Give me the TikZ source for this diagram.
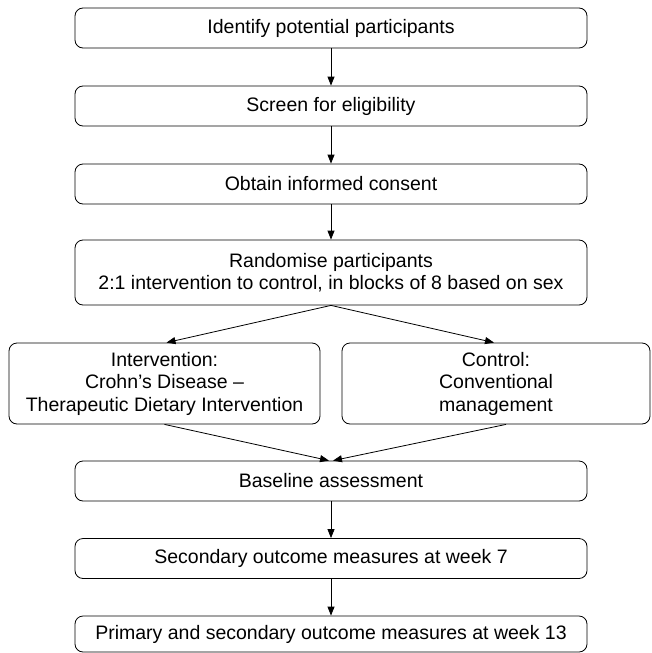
\documentclass[tikz,border=0pt]{standalone}
\usepackage{fontspec}
\setmainfont{Liberation Sans}
\usetikzlibrary{arrows.meta,calc}

\begin{document}
\begin{tikzpicture}[
    x=1pt,y=-1pt,
    box/.style={draw,rounded corners=8pt,line width=0.8pt,minimum width=512pt,minimum height=40pt,
        inner sep=2pt,align=center,font=\fontsize{19.5}{22.5}\selectfont},
    armbox/.style={box,minimum height=81pt},
    ->/.style={line width=0.8pt,-{Triangle[length=9pt,width=7pt]}},
]
\useasboundingbox (0,0) rectangle (651,653);

% Recruitment
\node[box] (ident) at (331,28) {Identify potential participants};
\node[box] (screen) at (331,106) {Screen for eligibility};
\node[box] (consent) at (331,184) {Obtain informed consent};
\node[box,minimum height=65pt] (random) at (331,272.5) {Randomise participants\\2:1 intervention to control, in blocks of 8 based on sex};

% Study arms
\node[armbox,minimum width=311pt] (interv) at (164.5,383.5) {Intervention:\\Crohn’s Disease –\\Therapeutic Dietary Intervention};
\node[armbox,minimum width=308pt] (control) at (496,383.5) {Control:\\Conventional\\management};

% Follow-up
\node[box] (baseline) at (331,481) {Baseline assessment};
\node[box] (week7) at (331,558.5) {Secondary outcome measures at week 7};
\node[box,minimum height=36pt] (week13) at (331,634) {Primary and secondary outcome measures at week 13};

% Arrows
\draw[->] (ident) -- (screen);
\draw[->] (screen) -- (consent);
\draw[->] (consent) -- (random);
\draw[->] (random.south) -- ($(interv.north)+(2,0)$);
\draw[->] (random.south) -- ($(control.north)+(-2,0)$);
\draw[->] (interv.south) -- ($(baseline.north)+(-2,0)$);
\draw[->] ($(control.south)+(10,0)$) -- ($(baseline.north)+(2,0)$);
\draw[->] (baseline) -- (week7);
\draw[->] (week7) -- (week13);

\end{tikzpicture}
\end{document}
